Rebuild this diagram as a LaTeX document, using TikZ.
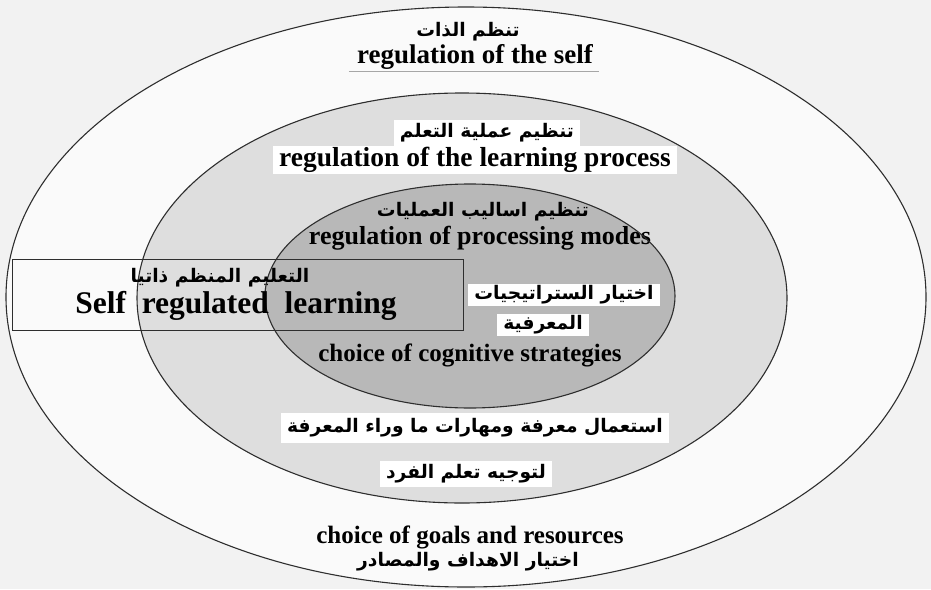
\documentclass[tikz,border=0pt]{standalone}
\usepackage{fontspec}
\setmainfont{Liberation Serif}
\newfontfamily\arabicfont[Script=Arabic]{DejaVu Sans}
\TeXXeTstate=1
\newcommand\rtl[1]{\beginR#1\endR}

\definecolor{paper}{gray}{0.95}
\definecolor{bandgray}{gray}{0.87}
\definecolor{coregray}{gray}{0.72}
\definecolor{rim}{gray}{0.18}

\begin{document}
\begin{tikzpicture}[x=1pt, y=-1pt,
  every node/.style={inner sep=2pt},
  en/.style={font=\fontsize{#1}{#1}\selectfont\bfseries},
  en/.default=25,
  ar/.style={font=\arabicfont\bfseries\fontsize{#1}{#1}\selectfont},
  ar/.default=18.7,
  patch/.style={fill=white, inner xsep=6pt, inner ysep=4pt},
  ring/.style={draw=rim, line width=1.1pt}
]
\useasboundingbox (0,0) rectangle (931,589);
\fill[paper] (0,0) rectangle (931,589);

\fill[white!60!paper] (466,297) ellipse [x radius=460pt, y radius=290pt];
\fill[bandgray] (462,298) ellipse [x radius=325pt, y radius=205pt];
\fill[coregray] (470,296) ellipse [x radius=205pt, y radius=112pt];

% outer ring
\node[ar] (self ar) at (468,32) {\rtl{تنظم الذات}};
\node[en=27] (self en) at (475,57) {regulation of the self};
\draw[gray!70, line width=0.8pt] ([xshift=-6pt]self en.south west) -- ([xshift=4pt]self en.south east);

% middle ring
\node[ar, patch] (proc ar) at (487,133) {\rtl{تنظيم عملية التعلم}};
\node[en=27.5, patch, inner ysep=1pt] (proc en) at (475,160) {regulation of the learning process};
\node[ar, patch, inner ysep=6pt] (meta ar1) at (475,428) {\rtl{استعمال معرفة ومهارات ما وراء المعرفة}};
\node[ar, patch] (meta ar2) at (466,474) {\rtl{لتوجيه تعلم الفرد}};

% inner ring
\node[ar] (modes ar) at (483,212) {\rtl{تنظيم اساليب العمليات}};
\node[en=26] (modes en) at (480,238) {regulation of processing modes};
\node[ar, patch, inner ysep=2pt] (strat ar1) at (564,295) {\rtl{اختيار الستراتيجيات}};
\node[ar, patch, inner ysep=2pt] (strat ar2) at (543,325) {\rtl{المعرفية}};
\node[en] (cog en) at (470,355) {choice of cognitive strategies};

% bottom of outer ring
\node[en] (goals en) at (470,537) {choice of goals and resources};
\node[ar] (goals ar) at (468,562) {\rtl{اختيار الاهداف والمصادر}};

\draw[ring] (466,297) ellipse [x radius=460pt, y radius=290pt];
\draw[ring] (462,298) ellipse [x radius=325pt, y radius=205pt];
\draw[ring] (470,296) ellipse [x radius=205pt, y radius=112pt];

% label box on the left
\node[draw=rim, line width=1pt, minimum width=451pt, minimum height=71pt] (srl box) at (237.5,294.5) {};
\node[ar] (srl ar) at (220,278) {\rtl{التعليم المنظم ذاتيا}};
\node[en=31.5] (srl en) at (236,306) {Self\ \ regulated\ \ learning};
\end{tikzpicture}
\end{document}
